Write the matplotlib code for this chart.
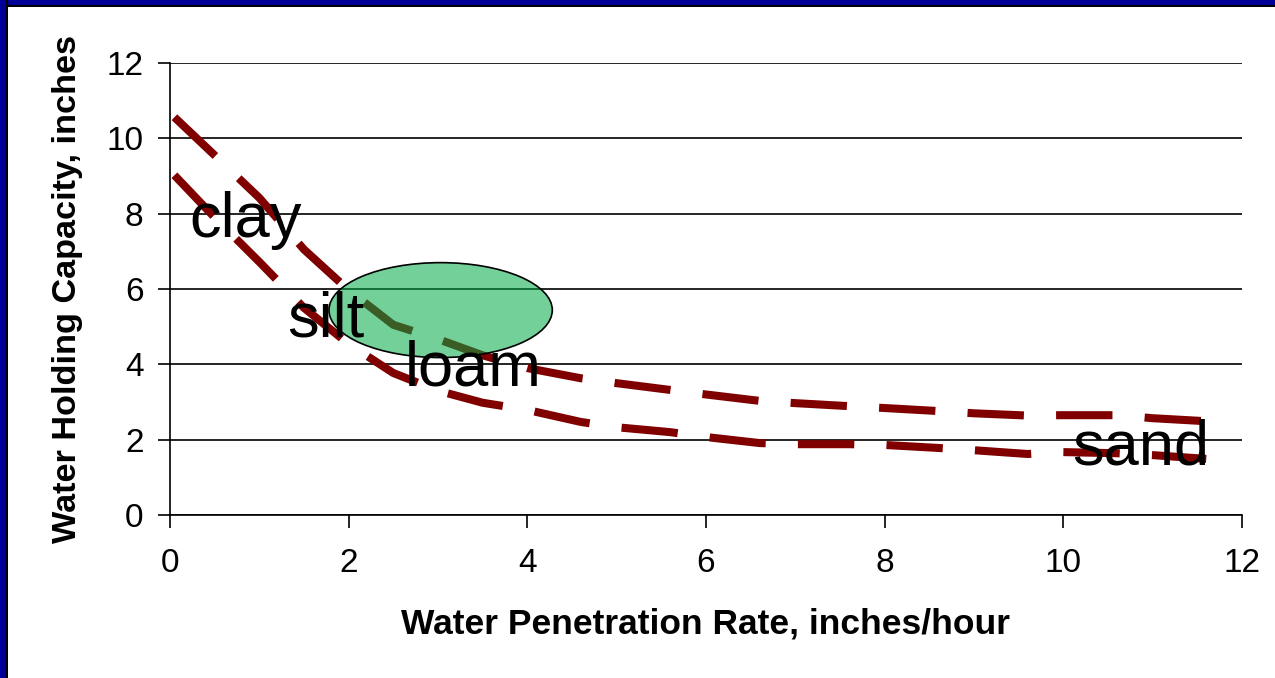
import matplotlib.pyplot as plt
from matplotlib.patches import Ellipse, Rectangle

plt.rcParams['font.family'] = ['Liberation Sans', 'DejaVu Sans']

# upper and lower boundary curves
x_upper = [0.05, 0.5, 1.0, 1.5, 2.0, 2.5, 3.0, 3.5, 4.0, 4.6, 5.0, 5.6, 6.0, 6.6,
           7.0, 7.6, 8.0, 8.6, 9.0, 9.6, 10.0, 10.6, 11.0, 11.6]
y_upper = [10.56, 9.55, 8.42, 7.05, 5.97, 5.05, 4.67, 4.24, 3.9, 3.63, 3.5, 3.32, 3.2, 3.03,
           2.97, 2.89, 2.84, 2.76, 2.7, 2.64, 2.65, 2.65, 2.57, 2.49]
x_lower = x_upper
y_lower = [9.02, 7.9, 6.72, 5.5, 4.54, 3.77, 3.3, 2.98, 2.79, 2.47, 2.33, 2.2, 2.07, 1.91,
           1.88, 1.88, 1.86, 1.78, 1.72, 1.62, 1.67, 1.64, 1.59, 1.49]

soil_names = ['clay', 'silt', 'loam', 'sand']
soil_x = [0.22, 1.31, 2.63, 10.1]
soil_y = [7.37, 4.75, 3.45, 1.33]

fig = plt.figure(figsize=(12.75, 6.78), dpi=100)
ax = fig.add_axes([0.1333, 0.2404, 0.8408, 0.6667])

ax.plot(x_upper, y_upper, color='#800000', lw=5.8, ls=(0, (7, 4)), zorder=2)
ax.plot(x_lower, y_lower, color='#800000', lw=5.8, ls=(0, (7, 4)), zorder=2)

# green blob for the loam zone, drawn over the lines
ell = Ellipse((3.03, 5.44), 2.5, 2.52, facecolor=(0.0, 0.67, 0.27, 0.55),
              edgecolor='black', lw=1.2, zorder=3)
ax.add_patch(ell)

for name, tx, ty in zip(soil_names, soil_x, soil_y):
    ax.text(tx, ty, name, fontsize=45.5, ha='left', va='baseline', zorder=4)

ax.set_xlim(0, 12)
ax.set_ylim(0, 12)
ax.set_xticks(range(0, 13, 2))
ax.set_yticks(range(0, 13, 2))
ax.grid(axis='y', color='black', lw=1.2, zorder=1)
ax.set_axisbelow(True)
for s in ['top', 'right']:
    ax.spines[s].set_visible(False)
for s in ['left', 'bottom']:
    ax.spines[s].set_linewidth(1.2)
ax.tick_params(direction='out', length=9, width=1.2, labelsize=24, pad=10)
ax.tick_params(axis='x', pad=15)

ax.set_xlabel('Water Penetration Rate, inches/hour', fontsize=25.5, fontweight='bold', labelpad=20)
ax.set_ylabel('Water Holding Capacity, inches', fontsize=24.7, fontweight='bold', labelpad=17)

# blue frame on top and left
fig.patches.append(Rectangle((0, 1 - 7 / 678), 1, 7 / 678, transform=fig.transFigure,
                             facecolor='black', edgecolor='none'))
fig.patches.append(Rectangle((0, 1 - 5 / 678), 1, 5 / 678, transform=fig.transFigure,
                             facecolor='#000099', edgecolor='none'))
fig.patches.append(Rectangle((0, 0), 8 / 1275, 1, transform=fig.transFigure,
                             facecolor='black', edgecolor='none'))
fig.patches.append(Rectangle((0, 0), 6 / 1275, 1, transform=fig.transFigure,
                             facecolor='#000099', edgecolor='none'))

fig.savefig('out.png', dpi=100)
